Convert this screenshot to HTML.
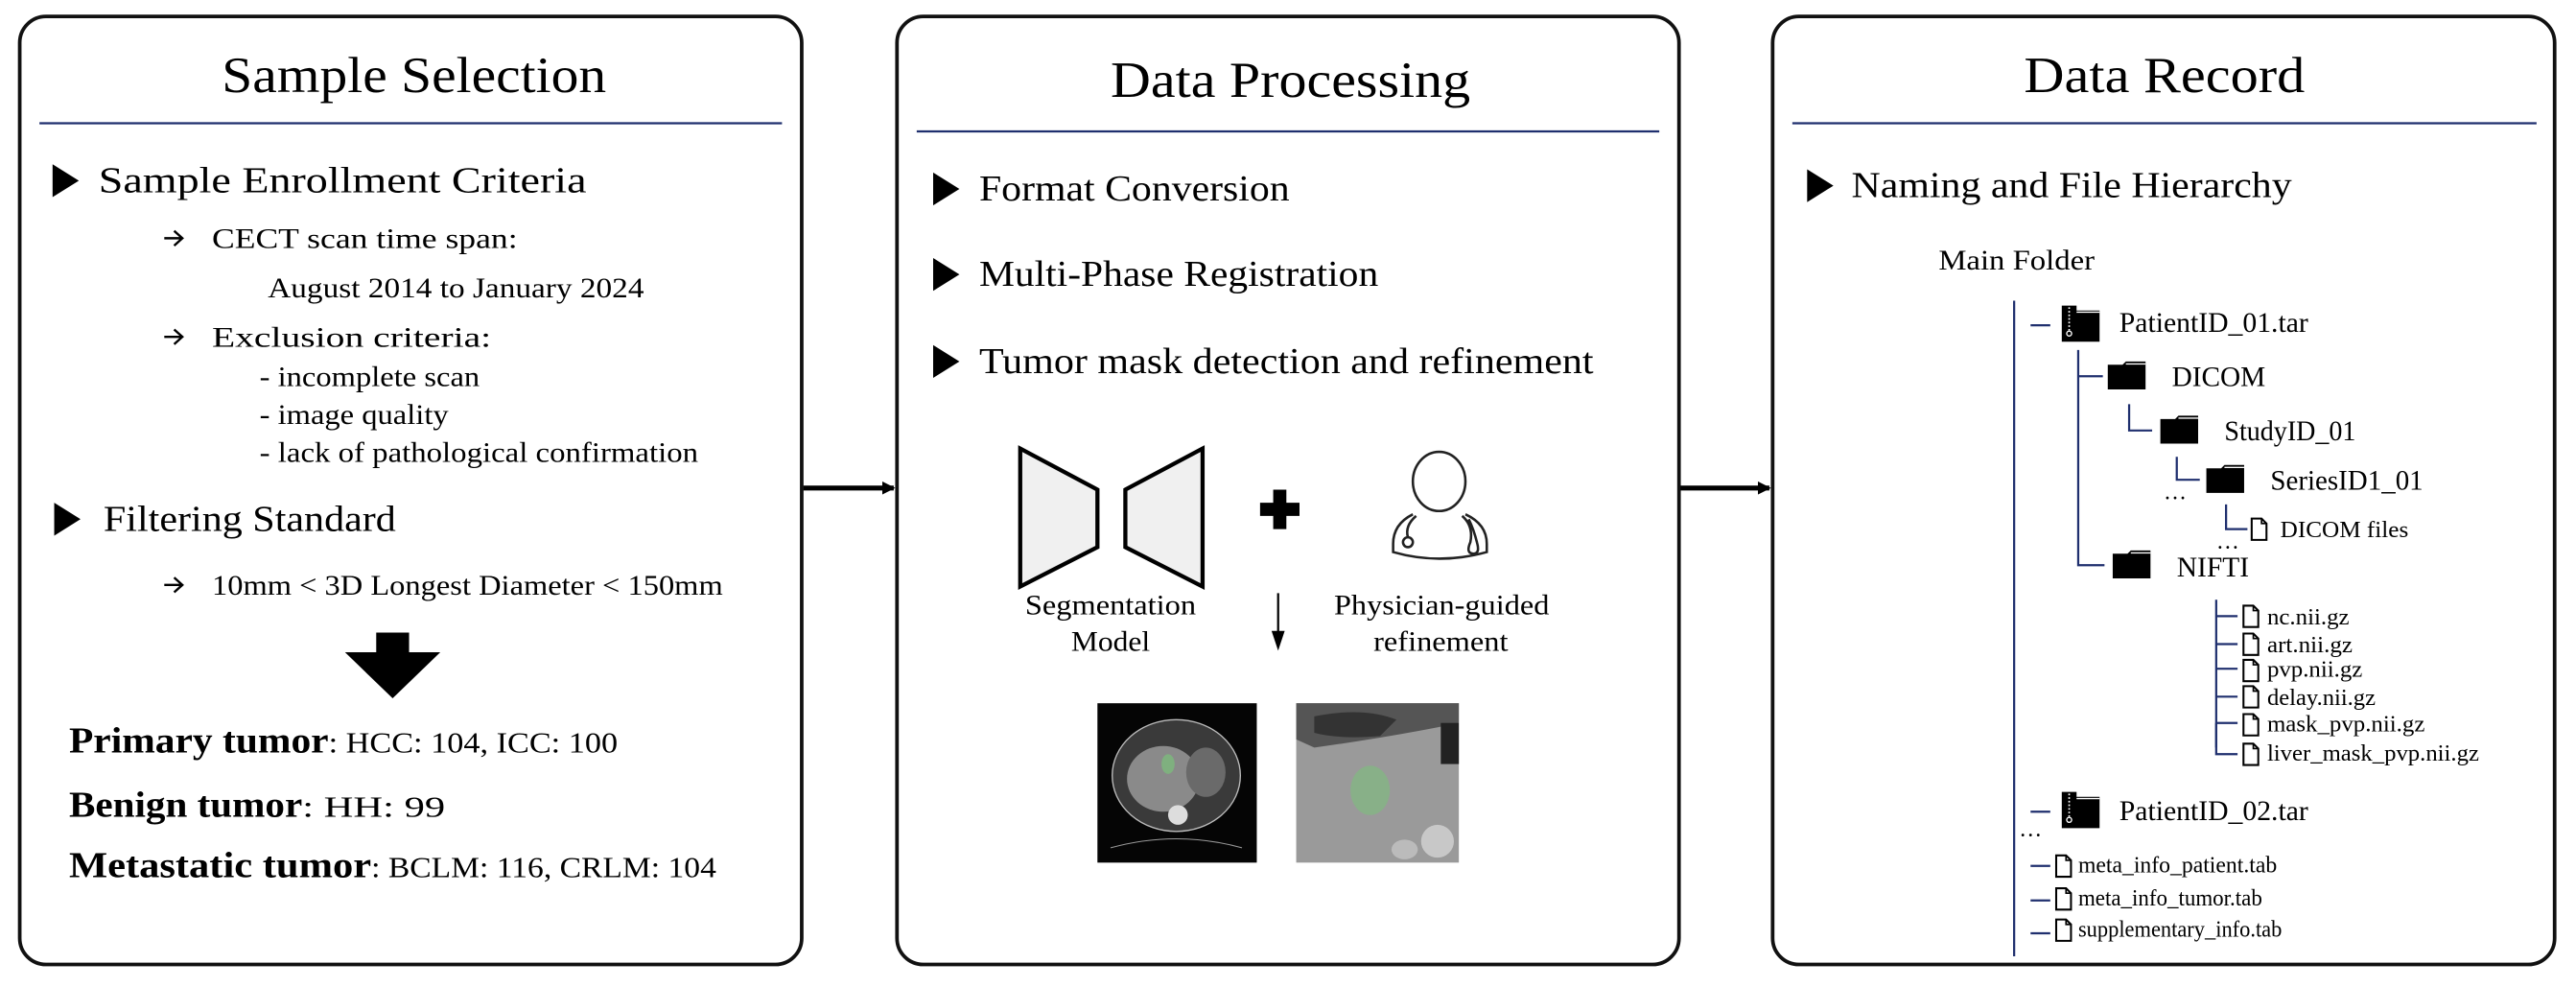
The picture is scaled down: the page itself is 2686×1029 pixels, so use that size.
<!DOCTYPE html>
<html><head><meta charset="utf-8"><style>
html,body{margin:0;padding:0;background:#fff;}
svg{display:block;}
text{font-family:"Liberation Serif",serif;fill:#000;}
</style></head><body>
<svg width="2686" height="1029" viewBox="0 0 1568 600.7" xmlns="http://www.w3.org/2000/svg">
<defs>
<marker id="ah" markerWidth="8" markerHeight="8" refX="7" refY="4" orient="auto" markerUnits="userSpaceOnUse"><path d="M0,0 L8,4 L0,8 z" fill="#000"/></marker>
<g id="fold"><path d="M0,2 h9 l2,-2 h12 v17 h-23 z" fill="#000"/><path d="M11,1.5 h12" stroke="#fff" stroke-width="0.8"/></g>
<g id="zip"><path d="M0,0 h9 v3 h14 v19 h-23 z" fill="#000"/><path d="M9,4 h14" stroke="#fff" stroke-width="0.8"/><path d="M4.5,1 v14" stroke="#fff" stroke-width="1" stroke-dasharray="1,1.2"/><circle cx="4.5" cy="17" r="1.5" fill="none" stroke="#fff" stroke-width="0.8"/></g>
<g id="file"><path d="M0.6,0.6 h6 l3,3 v10 h-9 z" fill="#fff" stroke="#000" stroke-width="1.2"/><path d="M6.6,0.6 v3 h3" fill="none" stroke="#000" stroke-width="1"/></g>
<g id="arr"><path d="M0,0 H11 M6,-4.5 L11,0 L6,4.5" fill="none" stroke="#000" stroke-width="1.4"/></g>
</defs>

<rect x="12" y="10" width="476" height="577" rx="16" fill="none" stroke="#111" stroke-width="2.2"/>
<rect x="546" y="10" width="476" height="577" rx="16" fill="none" stroke="#111" stroke-width="2.2"/>
<rect x="1079" y="10" width="476" height="577" rx="16" fill="none" stroke="#111" stroke-width="2.2"/>

<text x="135" y="56" font-size="31" textLength="234" lengthAdjust="spacingAndGlyphs">Sample Selection</text>
<line x1="24" y1="75" x2="476" y2="75" stroke="#1f2f6e" stroke-width="1.3"/>
<text x="676" y="59" font-size="31" textLength="219" lengthAdjust="spacingAndGlyphs">Data Processing</text>
<line x1="558" y1="80" x2="1010" y2="80" stroke="#1f2f6e" stroke-width="1.3"/>
<text x="1232" y="56" font-size="31" textLength="171" lengthAdjust="spacingAndGlyphs">Data Record</text>
<line x1="1091" y1="75" x2="1544" y2="75" stroke="#1f2f6e" stroke-width="1.3"/>

<line x1="489" y1="297" x2="544" y2="297" stroke="#000" stroke-width="3" marker-end="url(#ah)"/>
<line x1="1023" y1="297" x2="1077" y2="297" stroke="#000" stroke-width="3" marker-end="url(#ah)"/>

<path d="M32,100 L48,110 L32,120 z" fill="#000"/>
<text x="60" y="117" font-size="22" textLength="297" lengthAdjust="spacingAndGlyphs">Sample Enrollment Criteria</text>
<use href="#arr" x="100" y="145"/>
<text x="129" y="151" font-size="17.5" textLength="186" lengthAdjust="spacingAndGlyphs">CECT scan time span:</text>
<text x="163" y="181" font-size="17.5" textLength="229" lengthAdjust="spacingAndGlyphs">August 2014 to January 2024</text>
<use href="#arr" x="100" y="205"/>
<text x="129" y="211" font-size="17.5" textLength="170" lengthAdjust="spacingAndGlyphs">Exclusion criteria:</text>
<text x="158" y="235" font-size="17.5" textLength="134" lengthAdjust="spacingAndGlyphs">- incomplete scan</text>
<text x="158" y="258" font-size="17.5" textLength="115" lengthAdjust="spacingAndGlyphs">- image quality</text>
<text x="158" y="281" font-size="17.5" textLength="267" lengthAdjust="spacingAndGlyphs">- lack of pathological confirmation</text>
<path d="M33,306 L49,316 L33,326 z" fill="#000"/>
<text x="63" y="323" font-size="22" textLength="178" lengthAdjust="spacingAndGlyphs">Filtering Standard</text>
<use href="#arr" x="100" y="356"/>
<text x="129" y="362" font-size="17.5" textLength="311" lengthAdjust="spacingAndGlyphs">10mm &lt; 3D Longest Diameter &lt; 150mm</text>
<path d="M229,385 h20 v12 h19 l-29,28 l-29,-28 h19 z" fill="#000"/>
<text x="42" y="458" font-size="22" font-weight="bold" textLength="158" lengthAdjust="spacingAndGlyphs">Primary tumor</text>
<text x="200" y="458" font-size="18" textLength="176" lengthAdjust="spacingAndGlyphs">: HCC: 104, ICC: 100</text>
<text x="42" y="497" font-size="22" font-weight="bold" textLength="142" lengthAdjust="spacingAndGlyphs">Benign tumor</text>
<text x="184" y="497" font-size="18" textLength="87" lengthAdjust="spacingAndGlyphs">: HH: 99</text>
<text x="42" y="534" font-size="22" font-weight="bold" textLength="184" lengthAdjust="spacingAndGlyphs">Metastatic tumor</text>
<text x="226" y="534" font-size="18" textLength="210" lengthAdjust="spacingAndGlyphs">: BCLM: 116, CRLM: 104</text>

<path d="M568,105 L584,115 L568,125 z" fill="#000"/>
<text x="596" y="122" font-size="22" textLength="189" lengthAdjust="spacingAndGlyphs">Format Conversion</text>
<path d="M568,157 L584,167 L568,177 z" fill="#000"/>
<text x="596" y="174" font-size="22" textLength="243" lengthAdjust="spacingAndGlyphs">Multi-Phase Registration</text>
<path d="M568,210 L584,220 L568,230 z" fill="#000"/>
<text x="596" y="227" font-size="22" textLength="374" lengthAdjust="spacingAndGlyphs">Tumor mask detection and refinement</text>

<path d="M621,273 L668,298 L668,333 L621,357 z" fill="#f0f0f0" stroke="#000" stroke-width="2.5"/>
<path d="M732,273 L685,298 L685,333 L732,357 z" fill="#f0f0f0" stroke="#000" stroke-width="2.5"/>
<path d="M775,298 h8 v8 h8 v8 h-8 v8 h-8 v-8 h-8 v-8 h8 z" fill="#000"/>
<g fill="none" stroke="#222" stroke-width="1.5">
<ellipse cx="876" cy="293" rx="16" ry="18"/>
<path d="M860,313 Q848,319 848,331 L848,336 Q876,344 905,336 L905,331 Q905,319 892,313"/>
<path d="M862,314 Q855,320 857,327"/><circle cx="857" cy="330" r="3"/>
<path d="M890,314 Q897,320 895,330 Q892,337 897,337 Q901,337 899,330 Q897,322 894,316"/>
</g>
<text x="624" y="374" font-size="17" textLength="104" lengthAdjust="spacingAndGlyphs">Segmentation</text>
<text x="652" y="396" font-size="17" textLength="48" lengthAdjust="spacingAndGlyphs">Model</text>
<text x="812" y="374" font-size="17" textLength="131" lengthAdjust="spacingAndGlyphs">Physician-guided</text>
<text x="836" y="396" font-size="17" textLength="82" lengthAdjust="spacingAndGlyphs">refinement</text>
<line x1="778" y1="361" x2="778" y2="385" stroke="#000" stroke-width="1.3"/>
<path d="M774,384 L778,396 L782,384 z" fill="#000"/>
<rect x="668" y="428" width="97" height="97" fill="#050505"/>
<ellipse cx="716" cy="472" rx="39" ry="34" fill="#3a3a3a" stroke="#bbb" stroke-width="0.8"/>
<ellipse cx="708" cy="474" rx="22" ry="20" fill="#8a8a8a"/>
<ellipse cx="734" cy="470" rx="12" ry="15" fill="#6a6a6a"/>
<ellipse cx="717" cy="496" rx="6" ry="6" fill="#ddd"/>
<ellipse cx="711" cy="465" rx="4" ry="6" fill="#7fb07f"/>
<path d="M676,516 Q716,505 756,516" stroke="#999" stroke-width="0.6" fill="none"/>
<rect x="789" y="428" width="99" height="97" fill="#9a9a9a"/>
<path d="M789,428 h99 v12 Q850,448 800,455 L789,450 z" fill="#555"/>
<path d="M800,436 Q830,430 850,438 L840,448 Q815,450 800,446 z" fill="#333"/>
<rect x="877" y="440" width="11" height="25" fill="#222"/>
<ellipse cx="834" cy="481" rx="12" ry="15" fill="#88b088"/>
<ellipse cx="875" cy="512" rx="10" ry="10" fill="#c8c8c8"/>
<ellipse cx="855" cy="517" rx="8" ry="6" fill="#bbb"/>

<path d="M1100,103 L1116,113 L1100,123 z" fill="#000"/>
<text x="1127" y="120" font-size="22" textLength="268" lengthAdjust="spacingAndGlyphs">Naming and File Hierarchy</text>
<text x="1180" y="164" font-size="17" textLength="95" lengthAdjust="spacingAndGlyphs">Main Folder</text>

<g stroke="#1f2f6e" stroke-width="1.3" fill="none">
<line x1="1226" y1="183" x2="1226" y2="582"/>
<line x1="1236" y1="198" x2="1248" y2="198"/>
<path d="M1265,213 V344 H1281"/>
<line x1="1265" y1="229" x2="1280" y2="229"/>
<path d="M1296,246 V262 H1310"/>
<path d="M1325,278 V292 H1339"/>
<path d="M1355,307 V322 H1368"/>
<path d="M1349,365 V455"/>
<line x1="1349" y1="375" x2="1362" y2="375"/>
<line x1="1349" y1="392" x2="1362" y2="392"/>
<line x1="1349" y1="407" x2="1362" y2="407"/>
<line x1="1349" y1="424" x2="1362" y2="424"/>
<line x1="1349" y1="440" x2="1362" y2="440"/>
<path d="M1349,440 V459 H1362"/>
<line x1="1236" y1="494" x2="1248" y2="494"/>
<line x1="1236" y1="527" x2="1248" y2="527"/>
<line x1="1236" y1="548" x2="1248" y2="548"/>
<line x1="1236" y1="568" x2="1248" y2="568"/>
</g>
<use href="#zip" x="1255" y="186"/>
<text x="1290" y="202" font-size="17" textLength="115" lengthAdjust="spacingAndGlyphs">PatientID_01.tar</text>
<use href="#fold" x="1283" y="220"/>
<text x="1322" y="235" font-size="17" textLength="57" lengthAdjust="spacingAndGlyphs">DICOM</text>
<use href="#fold" x="1315" y="253"/>
<text x="1354" y="268" font-size="17" textLength="80" lengthAdjust="spacingAndGlyphs">StudyID_01</text>
<use href="#fold" x="1343" y="283"/>
<text x="1382" y="298" font-size="17" textLength="93" lengthAdjust="spacingAndGlyphs">SeriesID1_01</text>
<text x="1317" y="304" font-size="14">…</text>
<use href="#file" x="1370" y="315"/>
<text x="1388" y="327" font-size="14" textLength="78" lengthAdjust="spacingAndGlyphs">DICOM files</text>
<text x="1349" y="334" font-size="14">…</text>
<use href="#fold" x="1286" y="335"/>
<text x="1325" y="351" font-size="17" textLength="44" lengthAdjust="spacingAndGlyphs">NIFTI</text>

<use href="#file" x="1365" y="368"/><text x="1380" y="380" font-size="14" textLength="50" lengthAdjust="spacingAndGlyphs">nc.nii.gz</text>
<use href="#file" x="1365" y="385"/><text x="1380" y="397" font-size="14" textLength="52" lengthAdjust="spacingAndGlyphs">art.nii.gz</text>
<use href="#file" x="1365" y="401"/><text x="1380" y="412" font-size="14" textLength="58" lengthAdjust="spacingAndGlyphs">pvp.nii.gz</text>
<use href="#file" x="1365" y="417"/><text x="1380" y="429" font-size="14" textLength="66" lengthAdjust="spacingAndGlyphs">delay.nii.gz</text>
<use href="#file" x="1365" y="434"/><text x="1380" y="445" font-size="14" textLength="96" lengthAdjust="spacingAndGlyphs">mask_pvp.nii.gz</text>
<use href="#file" x="1365" y="452"/><text x="1380" y="463" font-size="14" textLength="129" lengthAdjust="spacingAndGlyphs">liver_mask_pvp.nii.gz</text>

<use href="#zip" x="1255" y="482"/>
<text x="1290" y="499" font-size="17" textLength="115" lengthAdjust="spacingAndGlyphs">PatientID_02.tar</text>
<text x="1229" y="509" font-size="14">…</text>
<use href="#file" x="1251" y="520"/><text x="1265" y="531" font-size="14" textLength="121" lengthAdjust="spacingAndGlyphs">meta_info_patient.tab</text>
<use href="#file" x="1251" y="540"/><text x="1265" y="551" font-size="14" textLength="112" lengthAdjust="spacingAndGlyphs">meta_info_tumor.tab</text>
<use href="#file" x="1251" y="559"/><text x="1265" y="570" font-size="14" textLength="124" lengthAdjust="spacingAndGlyphs">supplementary_info.tab</text>
</svg>
</body></html>
